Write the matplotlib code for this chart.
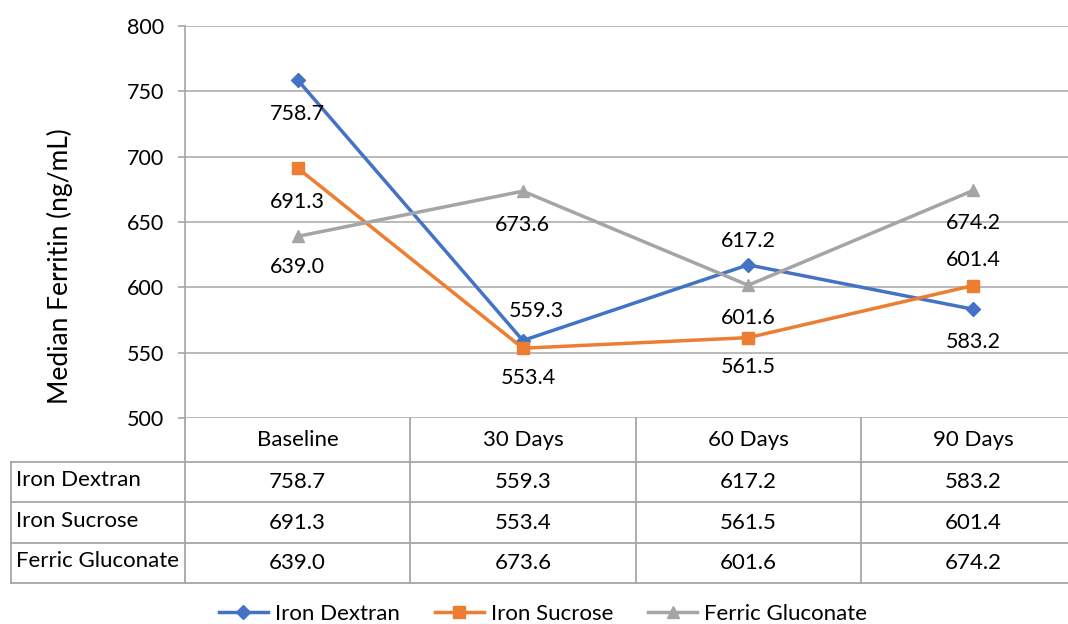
import matplotlib.pyplot as plt
from matplotlib.lines import Line2D

# ---- data -------------------------------------------------------------
categories = ["Baseline", "30 Days", "60 Days", "90 Days"]
series_names = ["Iron Dextran", "Iron Sucrose", "Ferric Gluconate"]
iron_dextran = [758.7, 559.3, 617.2, 583.2]
iron_sucrose = [691.3, 553.4, 561.5, 601.4]
ferric_gluconate = [639.0, 673.6, 601.6, 674.2]
y_ticks = [500, 550, 600, 650, 700, 750, 800]

series_values = [iron_dextran, iron_sucrose, ferric_gluconate]
colors = ["#4472C4", "#ED7D31", "#A5A5A5"]
markers = ["D", "s", "^"]
marker_sizes = [7, 9, 9]

# label offsets in pixels (dx, dy; positive dy = up)
label_offsets = [
    [(0, -34), (14, 30), (0, 24), (0, -33)],
    [(0, -34), (6, -30), (0, -29), (0, 26)],
    [(0, -31), (0, -34), (0, -33), (0, -33)],
]

FONT = ["Lato", "DejaVu Sans"]
plt.rcParams["font.family"] = FONT
FS = 15.5

W, H = 1068, 624
fig = plt.figure(figsize=(W / 100, H / 100), dpi=100)

# pixel geometry of the plot area
px_left, px_right = 185, 1086
px_top, px_bottom = 26, 418
unit = (px_right - px_left) / len(categories)


def fbox(x0, y0, x1, y1):
    return [x0 / W, 1 - y1 / H, (x1 - x0) / W, (y1 - y0) / H]


ax = fig.add_axes(fbox(px_left, px_top, px_right, px_bottom))
x = list(range(len(categories)))

for vals, name, c, m, ms, offs in zip(series_values, series_names, colors,
                                      markers, marker_sizes, label_offsets):
    ax.plot(x, vals, color=c, lw=2.5, marker=m, markersize=ms,
            markeredgecolor=c, label=name, zorder=3, clip_on=False)
    for xi, v, (dx, dy) in zip(x, vals, offs):
        ax.annotate(f"{v:.1f}", (xi, v), xytext=(dx * 0.72, dy * 0.72),
                    textcoords="offset points", ha="center", va="center",
                    fontsize=FS, color="#000000", zorder=4)

ax.set_xlim(-0.5, len(categories) - 0.5)
ax.set_ylim(500, 800)
ax.set_yticks(y_ticks)
ax.set_xticks([])
ax.tick_params(axis="y", length=5, width=1.2, color="#A6A6A6", pad=10,
               labelsize=FS)
ax.grid(axis="y", color="#B4B4B4", lw=1.3)
ax.set_axisbelow(True)
for s in ["top", "right", "bottom"]:
    ax.spines[s].set_visible(False)
ax.spines["left"].set_color("#A6A6A6")
ax.spines["left"].set_linewidth(1.2)

fig.text(60 / W, 1 - 266 / H, "Median Ferritin (ng/mL)", rotation=90,
         ha="center", va="center", fontsize=19)

# ---- data table -------------------------------------------------------
tab_left, tab_top, tab_bottom = 11, 418, 583
tab = fig.add_axes(fbox(tab_left, tab_top, px_right, tab_bottom))
left_col = (px_left - tab_left) / unit
x0 = -0.5 - left_col
header_h = 44 / 40.25
tab.set_xlim(x0, len(categories) - 0.5)
tab.set_ylim(len(series_names), -header_h)
tab.axis("off")

line_kw = dict(color="#A6A6A6", lw=1.3, clip_on=False)
for r in range(len(series_names) + 1):
    tab.plot([x0, len(categories) - 0.5], [r, r], **line_kw)
tab.plot([x0, x0], [0, len(series_names)], **line_kw)
for c in range(len(categories)):
    tab.plot([c - 0.5, c - 0.5], [-header_h, len(series_names)], **line_kw)

for c, cat in enumerate(categories):
    tab.text(c, -header_h / 2, cat, ha="center", va="center", fontsize=16)
for r, (name, vals) in enumerate(zip(series_names, series_values)):
    tab.text(x0 + 5 / unit, r + 0.45, name, ha="left", va="center",
             fontsize=16)
    for c, v in enumerate(vals):
        tab.text(c, r + 0.5, f"{v:.1f}", ha="center", va="center",
                 fontsize=16)

# ---- legend -----------------------------------------------------------
handles = [Line2D([], [], color=c, lw=2.5, marker=m, markersize=ms,
                  markeredgecolor=c)
           for c, m, ms in zip(colors, markers, marker_sizes)]
fig.legend(handles, series_names, loc="center", ncol=3,
           bbox_to_anchor=(543 / W, 1 - 614 / H), frameon=False,
           fontsize=16, handlelength=2.2, handletextpad=0.3,
           columnspacing=1.6)

fig.savefig("out.png", dpi=100)
